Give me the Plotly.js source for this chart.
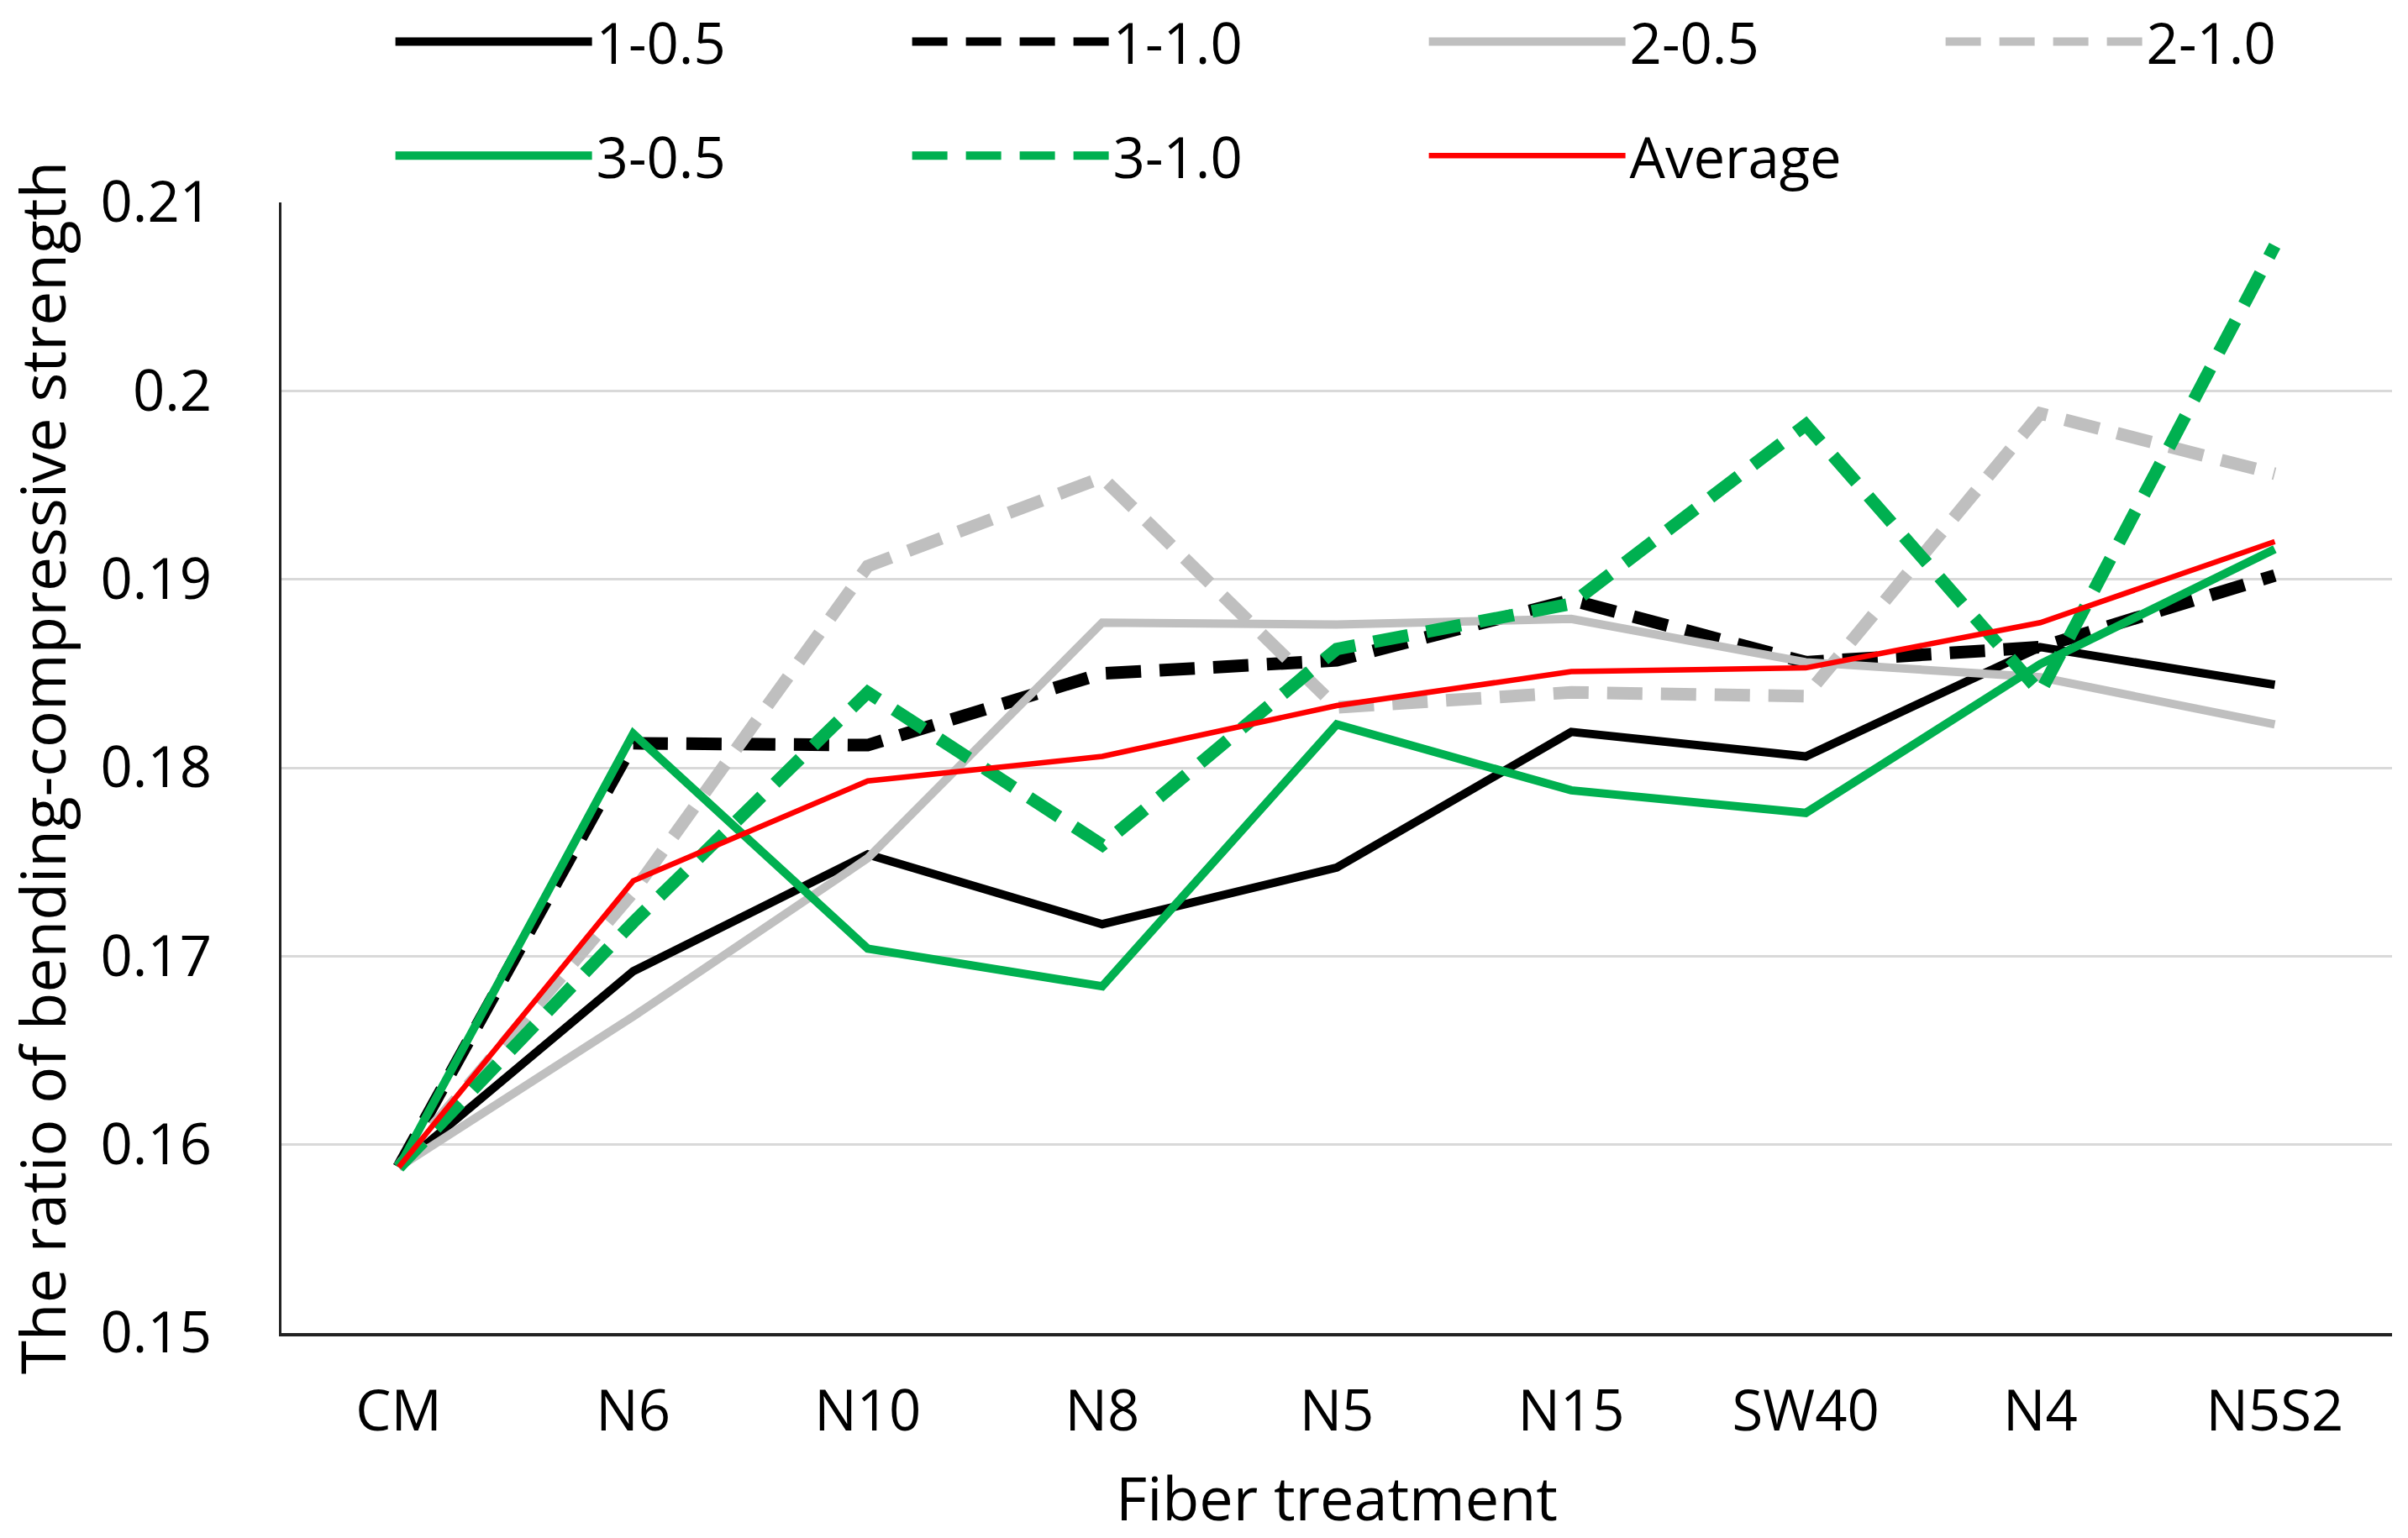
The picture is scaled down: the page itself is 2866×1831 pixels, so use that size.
<!DOCTYPE html>
<html><head><meta charset="utf-8">
<script src="https://cdn.plot.ly/plotly-3.0.1.min.js"></script>
<style>html,body{margin:0;padding:0;background:#fff;} #chart{width:2866px;height:1831px;}</style>
</head><body><div id="chart"></div>
<script>
const categories = ['CM','N6','N10','N8','N5','N15','SW40','N4','N5S2'];
const s1_05 = [0.1588,0.1692,0.1754,0.1717,0.1747,0.1819,0.1806,0.1864,0.1844];
const s1_10 = [0.1588,0.1813,0.1812,0.1850,0.1857,0.1889,0.1856,0.1864,0.1902];
const s2_05 = [0.1588,0.1668,0.1752,0.1877,0.1876,0.1879,0.1856,0.1848,0.1823];
const s2_10 = [0.1588,0.1734,0.1907,0.1954,0.1832,0.1840,0.1838,0.1988,0.1956];
const s3_05 = [0.1588,0.1818,0.1704,0.1684,0.1823,0.1788,0.1776,0.1855,0.1916];
const s3_10 = [0.1588,0.1718,0.1840,0.1759,0.1863,0.1887,0.1982,0.1840,0.2077];
const avg   = [0.1588,0.1740,0.1793,0.1806,0.1833,0.1851,0.1853,0.1877,0.1920];
const seriesNames = ['1-0.5','1-1.0','2-0.5','2-1.0','3-0.5','3-1.0','Average'];
const yTickVals = [0.15,0.16,0.17,0.18,0.19,0.20,0.21];
const yTickText = ['0.15','0.16','0.17','0.18','0.19','0.2','0.21'];

const BLACK = '#000000', GRAY = '#BFBFBF', GREEN = '#00B050', RED = '#FF0000';
const DASH = '42px,22px';

const seriesData = [s1_05, s1_10, s2_05, s2_10, s3_05, s3_10, avg];
const styles = [
  {color: BLACK, width: 10, dash: 'solid', legend: 'legend'},
  {color: BLACK, width: 15, dash: DASH, legend: 'legend'},
  {color: GRAY,  width: 10, dash: 'solid', legend: 'legend'},
  {color: GRAY,  width: 15, dash: DASH, legend: 'legend'},
  {color: GREEN, width: 10, dash: 'solid', legend: 'legend2'},
  {color: GREEN, width: 15, dash: DASH, legend: 'legend2'},
  {color: RED,   width: 6.5, dash: 'solid', legend: 'legend2'}
];

const traces = seriesData.map((vals, i) => ({
  type: 'scatter',
  mode: 'lines',
  x: categories,
  y: vals,
  name: seriesNames[i],
  legend: styles[i].legend,
  line: {color: styles[i].color, width: styles[i].width, dash: styles[i].dash},
  hoverinfo: 'skip'
}));

const FONT = 'Open Sans, Lato, sans-serif';
const legendBase = {
  orientation: 'h',
  x: 0.052, xanchor: 'left',
  yanchor: 'middle',
  entrywidth: 366, entrywidthmode: 'pixels',
  itemwidth: 234,
  font: {family: FONT, size: 67, color: '#000'},
  bgcolor: 'rgba(0,0,0,0)',
  borderwidth: 0
};

const layout = {
  width: 2866, height: 1831,
  margin: {l: 335, r: 19, t: 241, b: 244, autoexpand: false},
  paper_bgcolor: '#ffffff', plot_bgcolor: '#ffffff',
  font: {family: FONT, size: 66, color: '#000'},
  showlegend: true,
  xaxis: {
    type: 'category',
    range: [-0.5, 8.5],
    showgrid: false, zeroline: false,
    showline: true, linecolor: '#222', linewidth: 3.5,
    ticks: '', ticklabelstandoff: 32,
    tickfont: {family: FONT, size: 67, color: '#000'},
    title: {text: 'Fiber treatment', font: {family: FONT, size: 72, color: '#000'}, standoff: 43},
    automargin: false
  },
  yaxis: {
    range: [0.15, 0.21],
    tickmode: 'array', tickvals: yTickVals, ticktext: yTickText,
    showgrid: true, gridcolor: '#D9D9D9', gridwidth: 3,
    zeroline: false,
    showline: true, linecolor: '#222', linewidth: 3.5,
    ticks: '', ticklabelstandoff: 66,
    tickfont: {family: FONT, size: 67, color: '#000'},
    title: {text: 'The ratio of bending-compressive strength', font: {family: FONT, size: 73, color: '#000'}, standoff: 40},
    automargin: false
  },
  legend: Object.assign({}, legendBase, {y: 1.142}),
  legend2: Object.assign({}, legendBase, {y: 1.041})
};

Plotly.newPlot('chart', traces, layout, {staticPlot: true, displayModeBar: false});
</script>
</body></html>
